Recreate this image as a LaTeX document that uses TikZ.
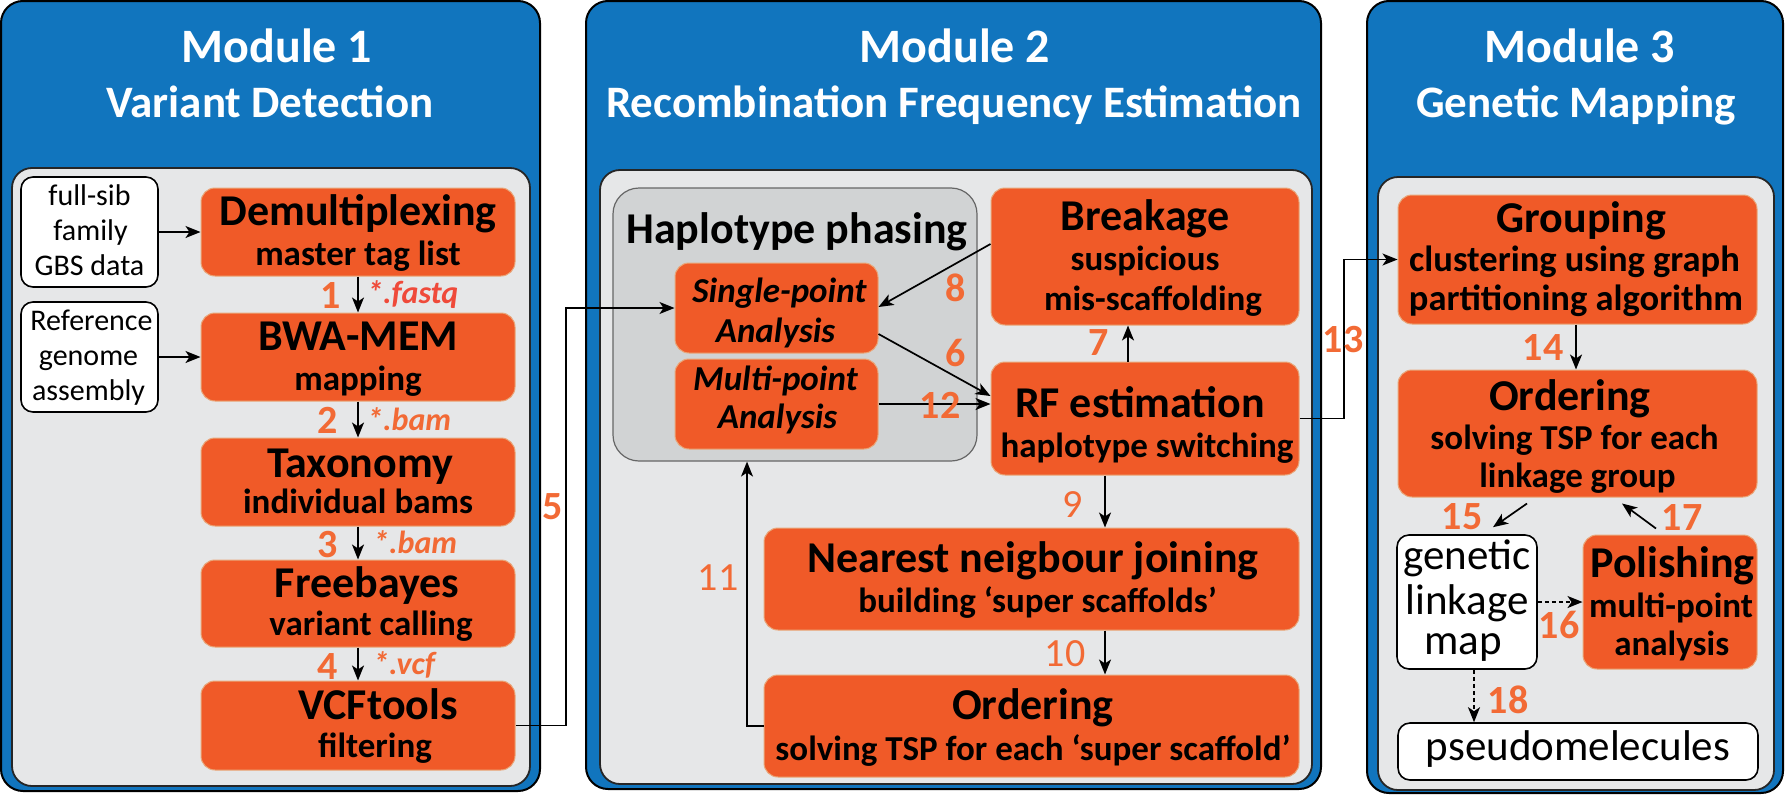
\documentclass[tikz,border=0pt]{standalone}
\usepackage{fontspec}
\setmainfont{Carlito}
\usetikzlibrary{arrows.meta,calc}
\definecolor{modblue}{HTML}{1175BE}
\definecolor{boxor}{HTML}{F05A28}
\definecolor{boxedge}{HTML}{E9A77A}
\definecolor{numor}{HTML}{F26A35}
\definecolor{extred}{HTML}{EF4A3A}
\definecolor{gin}{HTML}{E6E7E8}
\definecolor{ghap}{HTML}{D1D3D4}
\newcommand\btxt[5]{\node[#1] (#2) at ($(#3.center)+(#4)$) {#5};}
\tikzset{
 modbg/.style={fill=modblue, draw=black, line width=2pt, rounded corners=22pt},
 innerbg/.style={fill=gin, draw=black!85, line width=1.8pt, rounded corners=20pt},
 obox/.style={fill=boxor, draw=boxedge, line width=1pt, rounded corners=14pt, inner sep=0pt},
 wbox/.style={fill=white, draw=black, line width=1.6pt, rounded corners=12pt, inner sep=0pt},
 hapbox/.style={fill=ghap, draw=black!60, line width=1.2pt, rounded corners=26pt, inner sep=0pt},
 hdrA/.style={text=white, font=\fontsize{48}{48}\selectfont\bfseries, anchor=base, inner sep=0pt},
 hdrB/.style={text=white, font=\fontsize{45}{45}\selectfont\bfseries, anchor=base, inner sep=0pt},
 ttlA/.style={font=\fontsize{44}{44}\selectfont\bfseries, anchor=base, inner sep=0pt},
 subA/.style={font=\fontsize{35}{35}\selectfont\bfseries, anchor=base, inner sep=0pt},
 subB/.style={font=\fontsize{36.5}{36.5}\selectfont\bfseries, anchor=base, inner sep=0pt},
 itA/.style={font=\fontsize{35}{35}\selectfont\bfseries\itshape, anchor=base, inner sep=0pt},
 wtxtS/.style={font=\fontsize{30}{30}\selectfont, anchor=base, inner sep=0pt},
 wtxtL/.style={font=\fontsize{43}{43}\selectfont, anchor=base, inner sep=0pt},
 numA/.style={text=numor, font=\fontsize{40}{40}\selectfont\bfseries, inner sep=0pt},
 numR/.style={text=numor, font=\fontsize{40}{40}\selectfont, inner sep=0pt},
 numB/.style={text=numor, font=\fontsize{40}{40}\selectfont\bfseries, anchor=base, inner sep=0pt},
 extA/.style={text=numor, font=\fontsize{32}{32}\selectfont\bfseries\itshape, anchor=base west, inner sep=0pt},
 arr/.style={-{Stealth[length=15pt,width=12pt,inset=4pt]}, line width=1.7pt},
 thinarr/.style={-{Stealth[length=15pt,width=12pt,inset=4pt]}, line width=1.3pt},
 darr/.style={-{Stealth[length=15pt,width=12pt,inset=4pt]}, line width=1.7pt, dash pattern=on 4pt off 3pt},
}
\begin{document}
\begin{tikzpicture}[x=1pt,y=-1pt]
\useasboundingbox (0,0) rectangle (1785,795);
% module backgrounds
\draw[modbg] (1,1) rectangle (540,791);
\draw[modbg] (586,1) rectangle (1321,789);
\draw[modbg] (1367,1) rectangle (1783,793);
\draw[innerbg] (12,168) rectangle (530,786);
\draw[innerbg] (600,170) rectangle (1312,784);
\draw[innerbg] (1378,177) rectangle (1774,790);
% headers
\node[hdrA] (h1a) at (277,62) {Module 1};
\node[hdrB] (h1b) at (270,117) {Variant Detection};
\node[hdrA] (h2a) at (955,62) {Module 2};
\node[hdrB] (h2b) at (954,117) {Recombination Frequency Estimation};
\node[hdrA] (h3a) at (1580,62) {Module 3};
\node[hdrB] (h3b) at (1576,117) {Genetic Mapping};
% Module 1 boxes
\node[wbox, minimum width=137pt, minimum height=110pt] (fullsib) at (89.5,232) {};
\node[wbox, minimum width=137pt, minimum height=110pt] (ref) at (89.5,357) {};
\node[obox, minimum width=314pt, minimum height=88pt] (demux) at (358,232) {};
\node[obox, minimum width=314pt, minimum height=88pt] (bwa) at (358,357) {};
\node[obox, minimum width=314pt, minimum height=88pt] (tax) at (358,482) {};
\node[obox, minimum width=314pt, minimum height=87pt] (free) at (358,603.5) {};
\node[obox, minimum width=314pt, minimum height=89pt] (vcf) at (358,725.5) {};
\btxt{wtxtS}{fs1}{fullsib}{0,-27}{full-sib}
\btxt{wtxtS}{fs2}{fullsib}{1,8}{family}
\btxt{wtxtS}{fs3}{fullsib}{0,43}{GBS data}
\btxt{wtxtS}{rg1}{ref}{2,-27}{Reference}
\btxt{wtxtS}{rg2}{ref}{-1,8}{genome}
\btxt{wtxtS}{rg3}{ref}{-1,43}{assembly}
\btxt{ttlA}{dm1}{demux}{0,-7}{Demultiplexing}
\btxt{subA}{dm2}{demux}{0,33}{master tag list}
\btxt{ttlA}{bw1}{bwa}{0,-7}{BWA-MEM}
\btxt{subA}{bw2}{bwa}{0,33}{mapping}
\btxt{ttlA}{tx1}{tax}{2,-5}{Taxonomy}
\btxt{subA}{tx2}{tax}{0,31}{individual bams}
\btxt{ttlA}{fb1}{free}{9,-6.5}{Freebayes}
\btxt{subA}{fb2}{free}{13,31.5}{variant calling}
\btxt{ttlA}{vc1}{vcf}{20,-6.5}{VCFtools}
\btxt{subA}{vc2}{vcf}{17,31.5}{filtering}
% Module 2 boxes
\node[hapbox, minimum width=364pt, minimum height=273pt] (hap) at (795,324.5) {};
\btxt{ttlA}{hp1}{hap}{2,-81.5}{Haplotype phasing}
\node[obox, minimum width=203pt, minimum height=90pt] (single) at (776.5,308) {};
\node[obox, minimum width=203pt, minimum height=90pt] (multi) at (776.5,404) {};
\node[obox, minimum width=308pt, minimum height=137pt] (brk) at (1145,256.5) {};
\node[obox, minimum width=308pt, minimum height=113pt] (rf) at (1145,418.5) {};
\node[obox, minimum width=535pt, minimum height=102pt] (nn) at (1031.5,579) {};
\node[obox, minimum width=535pt, minimum height=102pt] (ord2) at (1031.5,726) {};
\btxt{itA}{sp1}{single}{3,-6}{Single-point}
\btxt{itA}{sp2}{single}{-1,34}{Analysis}
\btxt{itA}{mp1}{multi}{-1,-14}{Multi-point}
\btxt{itA}{mp2}{multi}{1,24}{Analysis}
\btxt{ttlA}{bk1}{brk}{0,-26.5}{Breakage}
\btxt{subA}{bk2}{brk}{0,13.5}{suspicious}
\btxt{subA}{bk3}{brk}{8,53.5}{mis-scaffolding}
\btxt{ttlA}{rf1}{rf}{-5,-1.5}{RF estimation}
\btxt{subA}{rf2}{rf}{2,38.5}{haplotype switching}
\btxt{ttlA}{nn1}{nn}{1.5,-7}{Nearest neigbour joining}
\btxt{subA}{nn2}{nn}{6,33}{building ‘super scaffolds’}
\btxt{ttlA}{oa1}{ord2}{1.5,-7}{Ordering}
\btxt{subA}{oa2}{ord2}{1.5,34}{solving TSP for each ‘super scaffold’}
% Module 3 boxes
\node[obox, minimum width=359pt, minimum height=129pt] (grp) at (1577.5,259.5) {};
\node[obox, minimum width=359pt, minimum height=127pt] (ord3) at (1577.5,433.5) {};
\node[wbox, minimum width=140pt, minimum height=134pt] (glm) at (1467,602) {};
\node[obox, minimum width=174pt, minimum height=134pt] (pol) at (1670,602) {};
\node[wbox, minimum width=360pt, minimum height=57pt] (pseudo) at (1578,751.5) {};
\btxt{ttlA}{gr1}{grp}{4,-27.5}{Grouping}
\btxt{subB}{gr2}{grp}{-3,11.5}{clustering using graph}
\btxt{subB}{gr3}{grp}{-1.5,50.5}{partitioning algorithm}
\btxt{ttlA}{ob1}{ord3}{-7.5,-23.5}{Ordering}
\btxt{subA}{ob2}{ord3}{-3,15.5}{solving TSP for each}
\btxt{subA}{ob3}{ord3}{0,53.5}{linkage group}
\btxt{wtxtL}{gl1}{glm}{0,-33}{genetic}
\btxt{wtxtL}{gl2}{glm}{0,12}{linkage}
\btxt{wtxtL}{gl3}{glm}{-4,52}{map}
\btxt{ttlA}{po1}{pol}{2.5,-25}{Polishing}
\btxt{subA}{po2}{pol}{1,15}{multi-point}
\btxt{subA}{po3}{pol}{1.7,53}{analysis}
\btxt{wtxtL}{ps1}{pseudo}{0,8.5}{pseudomelecules}
% connectors
\draw[arr] (fullsib.east) -- (demux.west);
\draw[arr] (ref.east) -- (bwa.west);
\draw[arr] (demux.south) -- (bwa.north);
\draw[arr] (bwa.south) -- (tax.north);
\draw[arr] (tax.south) -- (free.north);
\draw[arr] (free.south) -- (vcf.north);
\coordinate (k5) at (566,725.5);
\draw[thinarr] (vcf.east) -- (k5) |- (single.west);
\draw[arr] ($(brk.west)+(0,-12.5)$) -- ($(single.east)+(0,-1)$);
\draw[arr] ($(single.east)+(0,26)$) -- ($(rf.west)+(0,-22.5)$);
\draw[arr] (multi.east) -- (multi.east -| rf.west);
\draw[arr] ($(rf.north)+(-17,0)$) -- ($(brk.south)+(-17,0)$);
\draw[arr] ($(rf.south)+(-40,0)$) -- ($(nn.north)+(73.5,0)$);
\draw[arr] ($(nn.south)+(73.5,0)$) -- ($(ord2.north)+(73.5,0)$);
\draw[thinarr] (ord2.west) -| ($(hap.south)+(-48,0)$);
\coordinate (k13) at (1344,418.5);
\draw[thinarr] (rf.east) -- (k13) |- (grp.west);
\draw[arr] ($(grp.south)+(-1.5,0)$) -- ($(ord3.north)+(-1.5,0)$);
\draw[arr] ($(ord3.south)+(-50.5,6)$) -- ($(glm.north)+(26,-7)$);
\draw[arr] ($(pol.north)+(-14,-6)$) -- ($(ord3.south)+(44.5,6)$);
\draw[darr] (glm.east) -- (pol.west);
\draw[darr] ($(glm.south)+(7,0)$) -- ($(pseudo.north)+(-104,0)$);
% step labels
\node[numB] (n1) at (331,308) {1};
\node[numB] (n2) at (328,433) {2};
\node[numB] (n3) at (328,557) {3};
\node[numB] (n4) at (328,679) {4};
\node[extA, text=extred] (e1) at (367,303) {*.fastq};
\node[extA] (e2) at (367,430) {*.bam};
\node[extA] (e3) at (373,553) {*.bam};
\node[extA] (e4) at (373,674) {*.vcf};
\node[numA] (n5) at (553,507) {5};
\node[numA] (n6) at (956,353) {6};
\node[numA] (n7) at (1099,343) {7};
\node[numA] (n8) at (956,288) {8};
\node[numR] (n9) at (1073,505) {9};
\node[numR] (n10) at (1065,654) {10};
\node[numR] (n11) at (718,578) {11};
\node[numA] (n12) at (940,405) {12};
\node[numA] (n13) at (1343,340) {13};
\node[numA] (n14) at (1543,348) {14};
\node[numA] (n15) at (1462,517) {15};
\node[numA] (n16) at (1559,625) {16};
\node[numA] (n17) at (1682,518) {17};
\node[numA] (n18) at (1508,700) {18};
\end{tikzpicture}
\end{document}
